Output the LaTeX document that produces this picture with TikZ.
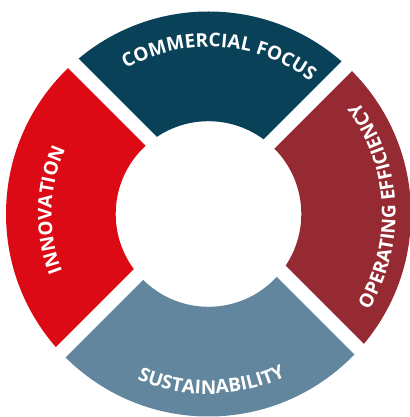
\documentclass[tikz,border=0pt]{standalone}
\usepackage{fontspec}
\setsansfont{Open Sans}
\usepackage{xcolor}
\usetikzlibrary{decorations.text}

\definecolor{focusblue}{RGB}{8,65,88}
\definecolor{innored}{RGB}{220,10,20}
\definecolor{effred}{RGB}{150,42,50}
\definecolor{sustgray}{RGB}{98,134,158}
\newcommand{\ringfont}{\sffamily\bfseries\fontsize{9.5}{11}\selectfont}

\begin{document}
\begin{tikzpicture}[
  x=0.5pt, y=0.5pt,
  gap/.style={draw=white, line width=7pt},
  lbl/.style={decorate, decoration={text along path, text align=center,
    text color=white, text={#1}}},
]
  \useasboundingbox (0,0) rectangle (410,417);
  \coordinate (c) at (208.5,203);
  \coordinate (p) at (211.5,215.5);

  % -- Ring segments --
  \foreach \ang/\col in {90/focusblue, 180/innored, 270/sustgray, 0/effred}{
    \begin{scope}
      \clip (p) -- +(\ang-45:600) -- +(\ang:600) -- +(\ang+45:600) -- cycle;
      \fill[\col, even odd rule] (c) circle[radius=202.5] (c) circle[radius=92.8];
    \end{scope}
  }

  % -- Gaps --
  \foreach \ang in {45,135,225,315}
    \draw[gap] (p) -- +(\ang:320);

  % -- Labels along the ring --
  \path[lbl={|\ringfont|COMMERCIAL FOCUS}, shift={(c)}]
    (146:167) arc[start angle=146, end angle=26, radius=167];
  \path[lbl={|\ringfont|INNOVATION}, shift={(c)}]
    (238.5:157) arc[start angle=238.5, end angle=118.5, radius=157];
  \path[lbl={|\ringfont|SUSTAINABILITY}, shift={(c)}]
    (211:180) arc[start angle=211, end angle=331, radius=180];
  \path[lbl={|\ringfont|OPERATING EFFICIENCY}, shift={(c)}]
    (-57:187) arc[start angle=-57, end angle=63, radius=187];
\end{tikzpicture}
\end{document}
